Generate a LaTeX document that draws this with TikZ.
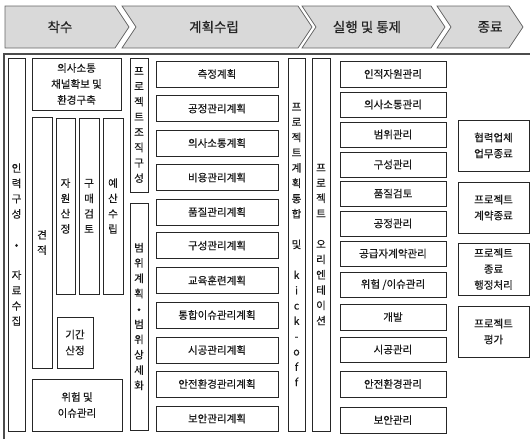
\documentclass[tikz,border=0pt]{standalone}
\usepackage{fontspec}
\newfontfamily\kr[FakeBold=0.4]{Noto Sans CJK KR}
\tikzset{
  kbox/.style={draw=black!85, line width=0.8pt, inner sep=0pt, align=center,
    font=\kr\fontsize{10.5}{16}\selectfont, text=black!90},
  vbox/.style={kbox, font=\kr\fontsize{10.5}{15.3}\selectfont},
  hdr/.style={draw=black!60, fill=black!15, line width=0.8pt},
  hdrtext/.style={font=\kr\fontsize{13.5}{16}\selectfont, text=black!85, inner sep=0pt},
  frameline/.style={draw=black!70, line width=1.6pt}
}
\newcommand\kb[7][kbox]{\node[#1, minimum width={(#5-#3)*1pt}, minimum height={(#6-#4)*1pt}] (#2) at ({(#3+#5)/2},{(#4+#6)/2}) {#7};}
\begin{document}
\begin{tikzpicture}[x=1pt,y=-1pt]
\useasboundingbox (0,0) rectangle (530,439);
% header chevrons
\draw[hdr] (5,6) -- (115,6) -- (129,27) -- (115,48) -- (5,48) -- cycle;
\draw[hdr] (122,6) -- (298,6) -- (312,27) -- (298,48) -- (122,48) -- (136,27) -- cycle;
\draw[hdr] (302,6) -- (431,6) -- (445,27) -- (431,48) -- (302,48) -- (316,27) -- cycle;
\draw[hdr] (437,6) -- (509,6) -- (523,27) -- (509,48) -- (437,48) -- (451,27) -- cycle;
\node[hdrtext] (h1) at (60,27) {착수};
\node[hdrtext] (h2) at (214,27) {계획수립};
\node[hdrtext] (h3) at (367,27) {실행 및 통제};
\node[hdrtext] (h4) at (490,27) {종료};
% outer frame (open)
\draw[frameline] (4,439) -- (4,54) -- (530,54);
% column 1
\kb[vbox]{inryeok}{8}{58}{25}{431}{인\\력\\구\\성\\~\\•\\~\\자\\료\\수\\집}
\kb{comm}{32}{58}{121}{110}{의사소통\\채널확보 및\\환경구축}
\kb[vbox]{est}{32}{117}{52}{368}{견\\적}
\kb[vbox]{res}{56}{118}{75}{294}{자\\원\\산\\정}
\kb[vbox]{pur}{79}{118}{99}{294}{구\\매\\검\\토}
\kb[vbox]{bud}{103}{118}{123}{294}{예\\산\\수\\립}
\kb{dur}{57}{317}{93}{368}{기간\\산정}
\kb{risk}{32}{379}{122}{431}{위험 및\\이슈관리}
% column 2
\kb[vbox]{org}{130}{58}{148}{192}{프\\로\\젝\\트\\조\\직\\구\\성}
\kb[vbox]{scope}{130}{203}{148}{430}{범\\위\\계\\획\\•\\범\\위\\상\\세\\화}
\kb{p1}{156}{61}{278}{87}{측정계획}
\kb{p2}{156}{95.5}{278}{121.5}{공정관리계획}
\kb{p3}{156}{130}{278}{156}{의사소통계획}
\kb{p4}{156}{164.5}{278}{190.5}{비용관리계획}
\kb{p5}{156}{199}{278}{225}{품질관리계획}
\kb{p6}{156}{232.5}{278}{258.5}{구성관리계획}
\kb{p7}{156}{267.5}{278}{293.5}{교육훈련계획}
\kb{p8}{156}{302}{278}{328}{통합이슈관리계획}
\kb{p9}{156}{337}{278}{363}{시공관리계획}
\kb{p10}{156}{371}{278}{397}{안전환경관리계획}
\kb{p11}{156}{406}{278}{431}{보안관리계획}
\kb[vbox]{integ}{288}{58}{305}{431}{프\\로\\젝\\트\\계\\획\\통\\합\\~\\및\\~\\k\\i\\c\\k\\-\\o\\f\\f}
\kb[vbox]{orient}{312}{58}{330}{431}{프\\로\\젝\\트\\~\\오\\리\\엔\\테\\이\\션}
% column 3
\kb{e1}{340}{61}{446}{87}{인적자원관리}
\kb{e2}{340}{92}{446}{117}{의사소통관리}
\kb{e3}{340}{122}{446}{147}{범위관리}
\kb{e4}{340}{152}{446}{177}{구성관리}
\kb{e5}{340}{181}{446}{206}{품질검토}
\kb{e6}{340}{211}{446}{236}{공정관리}
\kb{e7}{340}{241}{446}{266}{공급자계약관리}
\kb{e8}{340}{272}{446}{297}{위험 /이슈관리}
\kb{e9}{340}{304}{446}{330}{개발}
\kb{e10}{340}{337}{446}{362}{시공관리}
\kb{e11}{340}{371}{446}{397}{안전환경관리}
\kb{e12}{340}{407}{446}{433}{보안관리}
% column 4
\kb{t1}{458}{120}{529}{171}{협력업체\\업무종료}
\kb{t2}{458}{182}{529}{233}{프로젝트\\계약종료}
\kb{t3}{458}{243}{529}{295}{프로젝트\\종료\\행정처리}
\kb{t4}{458}{306}{529}{357}{프로젝트\\평가}
\end{tikzpicture}
\end{document}
